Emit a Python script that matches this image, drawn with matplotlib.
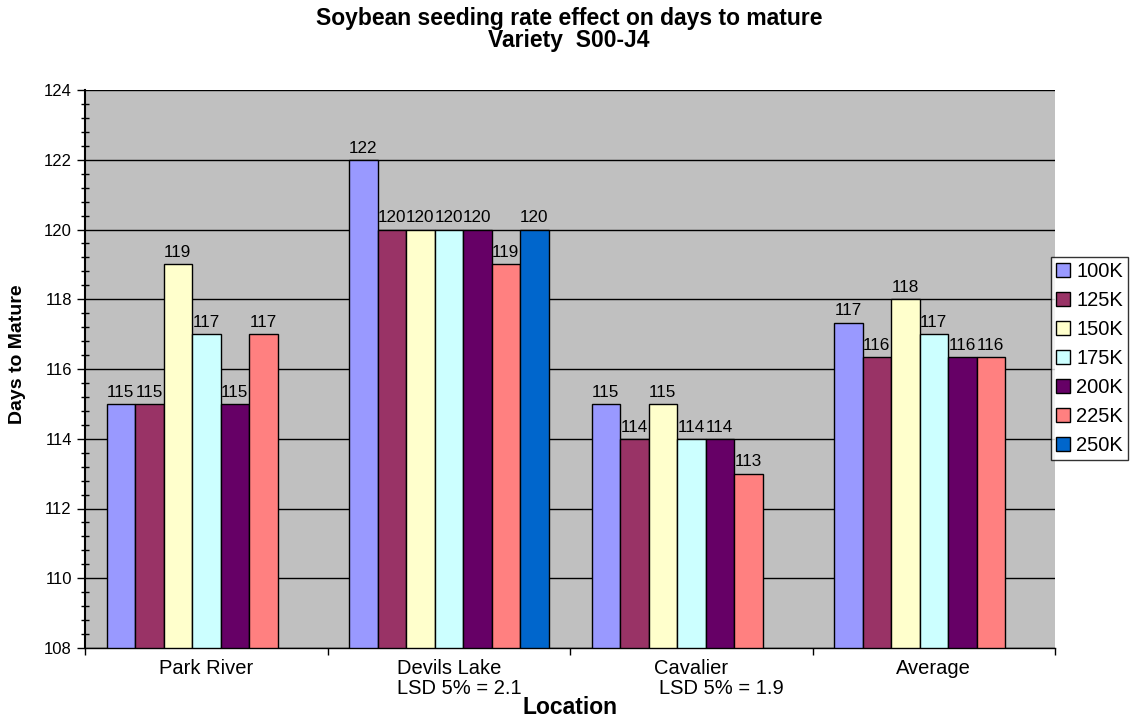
import numpy as np
import matplotlib.pyplot as plt
from matplotlib.patches import Patch
from matplotlib.ticker import MultipleLocator
from matplotlib.transforms import blended_transform_factory

plt.rcParams['font.family'] = ['Liberation Sans', 'DejaVu Sans']

locations = ['Park River', 'Devils Lake', 'Cavalier', 'Average']
lsd_notes = ['', 'LSD 5% = 2.1', 'LSD 5% = 1.9', '']
rates = ['100K', '125K', '150K', '175K', '200K', '225K', '250K']
colors = ['#9999FF', '#993366', '#FFFFCC', '#CCFFFF', '#660066', '#FF8080', '#0066CC']

# days to mature, one list per location, in the order of rates
park_river = [115, 115, 119, 117, 115, 117, np.nan]
devils_lake = [122, 120, 120, 120, 120, 119, 120]
cavalier = [115, 114, 115, 114, 114, 113, np.nan]
average = [117.33, 116.33, 118, 117, 116.33, 116.33, np.nan]

table = np.array([park_river, devils_lake, cavalier, average])

W, H = 1130, 723
fig = plt.figure(figsize=(W / 100, H / 100), dpi=100)
ax = fig.add_axes([85 / W, 1 - 648 / H, 970 / W, 558 / H])
ax.set_facecolor('#C0C0C0')

x = np.arange(len(locations))
w = 28.5 / 242.5
for i, rate in enumerate(rates):
    xs = x + (i - 3) * w
    vals = table[:, i]
    ax.bar(xs, vals, w, color=colors[i], edgecolor='black', linewidth=1, zorder=2)
    for xi, v in zip(xs, vals):
        if np.isnan(v):
            continue
        ax.annotate(f'{v:.0f}', (xi, v), xytext=(0, 3), textcoords='offset points',
                    ha='center', va='bottom', fontsize=12.3, zorder=3)

ax.set_ylim(108, 124)
ax.set_xlim(-0.5, 3.5)
ax.set_yticks(np.arange(108, 125, 2))
ax.yaxis.set_minor_locator(MultipleLocator(0.4))
ax.grid(axis='y', which='major', color='black', linewidth=1, zorder=1)
ax.set_axisbelow(True)
ax.tick_params(axis='y', which='major', length=6, width=1, labelsize=12, direction='out')
ax.tick_params(axis='y', which='minor', length=6, width=1, direction='inout')

ax.set_xticks(np.arange(-0.5, 4, 1))
ax.set_xticklabels([])
ax.tick_params(axis='x', which='major', length=5, width=1, direction='out')
ax.set_xticks(x, locations, minor=True)
ax.tick_params(axis='x', which='minor', length=0, labelsize=14.5, pad=8)

for s in ['top', 'right']:
    ax.spines[s].set_visible(False)
ax.spines['left'].set_linewidth(1.5)
ax.spines['bottom'].set_linewidth(1)

trans = blended_transform_factory(ax.transData, ax.transAxes)
lsd_x = [0, 0.787, 1.868, 3]
for xi, note in zip(lsd_x, lsd_notes):
    if note:
        ax.text(xi, -40 / 558, note, transform=trans, ha='left', va='center', fontsize=14.5)

ax.text(0.5, -60 / 558, 'Location', transform=ax.transAxes, ha='center', va='center',
        fontsize=16.5, fontweight='bold')
ax.text(-67 / 970, (648 - 354) / 558, 'Days to Mature', transform=ax.transAxes, rotation=90,
        ha='center', va='center', fontsize=14, fontweight='bold')

fig.text(569 / W, 1 - 25 / H, 'Soybean seeding rate effect on days to mature',
         ha='center', va='baseline', fontsize=16.5, fontweight='bold')
fig.text(569 / W, 1 - 47 / H, 'Variety  S00-J4',
         ha='center', va='baseline', fontsize=16.5, fontweight='bold')

handles = [Patch(facecolor=c, edgecolor='black', linewidth=1) for c in colors]
leg = fig.legend(handles, rates, loc='upper left', bbox_to_anchor=(1051 / W, 1 - 257 / H),
                 fontsize=14.5, frameon=True, fancybox=False, borderaxespad=0,
                 handlelength=0.7, handleheight=0.7, handletextpad=0.3,
                 labelspacing=0.5, borderpad=0.25)
leg.get_frame().set_edgecolor('black')
leg.get_frame().set_linewidth(1)

fig.savefig('out.png', dpi=100)
